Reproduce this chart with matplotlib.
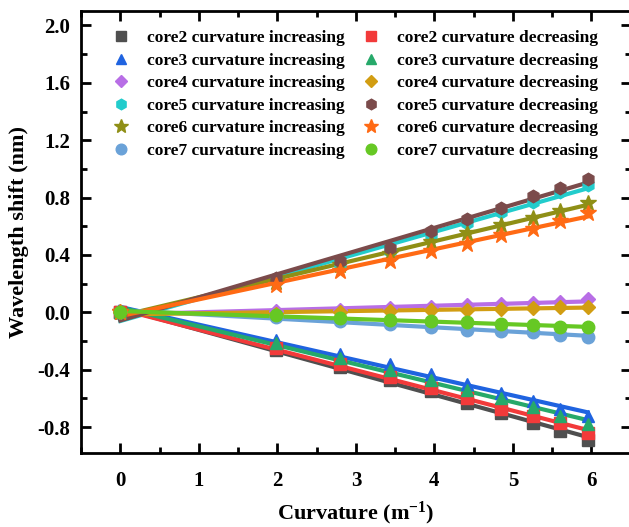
import numpy as np
import matplotlib
matplotlib.use('Agg')
from matplotlib import pyplot as plt
from matplotlib.ticker import MultipleLocator

## data
curv = [0, 1.98, 2.80, 3.43, 3.96, 4.42, 4.85, 5.25, 5.60, 5.95]

core2_inc = [0, -0.26, -0.38, -0.47, -0.55, -0.63, -0.70, -0.77, -0.83, -0.89]
core3_inc = [0, -0.19, -0.29, -0.36, -0.43, -0.50, -0.56, -0.62, -0.67, -0.72]
core4_inc = [0, 0.01, 0.02, 0.03, 0.04, 0.05, 0.06, 0.065, 0.075, 0.09]
core5_inc = [0, 0.22, 0.34, 0.43, 0.53, 0.62, 0.70, 0.77, 0.84, 0.89]
core6_inc = [0, 0.21, 0.33, 0.41, 0.49, 0.55, 0.61, 0.66, 0.71, 0.76]
core7_inc = [0, -0.03, -0.06, -0.08, -0.10, -0.12, -0.13, -0.14, -0.16, -0.17]

core2_dec = [0, -0.25, -0.36, -0.45, -0.53, -0.60, -0.67, -0.72, -0.77, -0.84]
core3_dec = [0, -0.21, -0.32, -0.40, -0.47, -0.54, -0.60, -0.66, -0.72, -0.78]
core4_dec = [0, -0.01, 0.0, 0.01, 0.015, 0.02, 0.025, 0.03, 0.035, 0.04]
core5_dec = [0, 0.24, 0.36, 0.45, 0.57, 0.65, 0.73, 0.81, 0.87, 0.93]
core6_dec = [0, 0.19, 0.29, 0.36, 0.43, 0.48, 0.54, 0.58, 0.64, 0.69]
core7_dec = [0, -0.02, -0.04, -0.05, -0.06, -0.07, -0.08, -0.09, -0.10, -0.105]

# order: left legend column (increasing) then right column (decreasing)
labels = ['core2 curvature increasing', 'core3 curvature increasing',
          'core4 curvature increasing', 'core5 curvature increasing',
          'core6 curvature increasing', 'core7 curvature increasing',
          'core2 curvature decreasing', 'core3 curvature decreasing',
          'core4 curvature decreasing', 'core5 curvature decreasing',
          'core6 curvature decreasing', 'core7 curvature decreasing']
series = [core2_inc, core3_inc, core4_inc, core5_inc, core6_inc, core7_inc,
          core2_dec, core3_dec, core4_dec, core5_dec, core6_dec, core7_dec]

colors = ['#4f4f4f', '#1f63e0', '#b86ee6', '#22cccc', '#8f8f16', '#6aa2d8',
          '#f23a3a', '#26a96a', '#d29d12', '#7b4b4b', '#ff6a14', '#66c824']
markers = ['s', '^', 'D', 'h', '*', 'o', 's', '^', 'D', 'h', '*', 'o']
msizes = [8, 9, 7.5, 9, 12, 9, 8, 9, 7.5, 9, 12, 9]

plt.rcParams['font.family'] = ['Liberation Serif', 'DejaVu Serif']
plt.rcParams['font.weight'] = 'bold'
plt.rcParams['axes.unicode_minus'] = False
plt.rcParams['mathtext.default'] = 'regular'

fig = plt.figure(figsize=(6.29, 5.27), dpi=100)
ax = fig.add_axes([0.1288, 0.1404, 0.874, 0.8386])

x = np.array(curv)
# fitted lines first, markers on top
for ys, c in zip(series, colors):
    k, b = np.polyfit(x, np.array(ys), 1)
    ax.plot(x, k*x + b, color=c, lw=3, zorder=2)
handles = []
for ys, c, m, ms, lab in zip(series, colors, markers, msizes, labels):
    h, = ax.plot(x, ys, linestyle='none', marker=m, ms=ms, color=c,
                 markeredgecolor=c, zorder=3, label=lab)
    handles.append(h)

ax.set_xlim(-0.5, 6.5)
ax.set_ylim(-0.98, 2.1)
ax.xaxis.set_major_locator(MultipleLocator(1))
ax.xaxis.set_minor_locator(MultipleLocator(0.5))
ax.yaxis.set_minor_locator(MultipleLocator(0.2))
ax.set_yticks([-0.8, -0.4, 0.0, 0.4, 0.8, 1.2, 1.6, 2.0])

ax.tick_params(which='both', direction='in', top=True, right=True, width=2)
ax.tick_params(which='major', length=7, labelsize=15)
ax.tick_params(axis='x', which='major', pad=13)
ax.tick_params(axis='y', which='major', pad=8)
ax.tick_params(which='minor', length=4)
for sp in ax.spines.values():
    sp.set_linewidth(2)
for t in ax.get_xticklabels() + ax.get_yticklabels():
    t.set_fontweight('bold')

ax.set_xlabel('Curvature (m$^{-1}$)', fontsize=16, fontweight='bold', labelpad=6)
ax.set_ylabel('Wavelength shift (nm)', fontsize=16, fontweight='bold', labelpad=6)

leg = ax.legend(handles=handles, ncol=2, loc='upper left', frameon=False,
                bbox_to_anchor=(0.019, 0.985), fontsize=12.5, handletextpad=0.5,
                columnspacing=0.5, labelspacing=0.37, borderaxespad=0.3,
                markerscale=0.85)

fig.savefig('out.png', dpi=100)
